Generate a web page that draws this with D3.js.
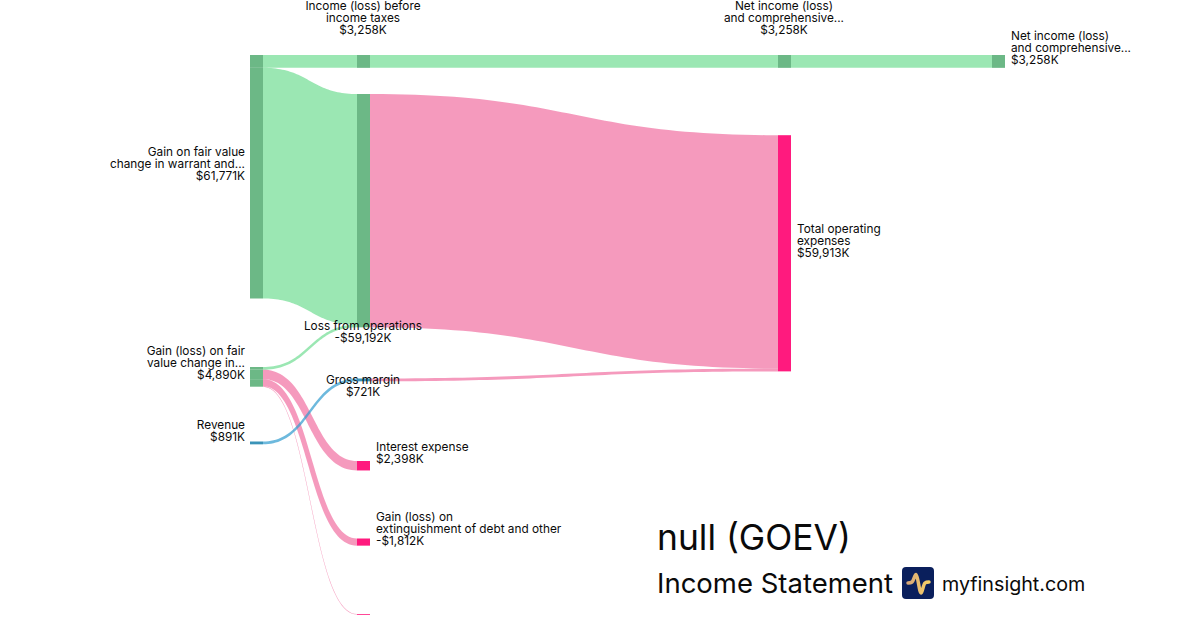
<!DOCTYPE html>
<html>
<head>
<meta charset="utf-8">
<title>GOEV Income Statement</title>
<script src="https://cdn.jsdelivr.net/npm/d3@7"></script>
<style>
  html, body { margin: 0; padding: 0; background: #fff; }
  svg { display: block; font-family: Inter, sans-serif; }
</style>
</head>
<body>
<svg id="chart" width="1200" height="630"></svg>
<script>
// nodes
const nodeIds = ["gainFair", "gainLossFair", "revenue", "incomeBefore", "lossOps", "grossMargin",
  "interest", "extinguish", "other", "netIncome", "totalOpex", "netIncomeFinal"];
const nodeLabels = [
  ["Gain on fair value", "change in warrant and..."],
  ["Gain (loss) on fair", "value change in..."],
  ["Revenue"],
  ["Income (loss) before", "income taxes"],
  ["Loss from operations"],
  ["Gross margin"],
  ["Interest expense"],
  ["Gain (loss) on", "extinguishment of debt and other"],
  [],
  ["Net income (loss)", "and comprehensive..."],
  ["Total operating", "expenses"],
  ["Net income (loss)", "and comprehensive..."]
];
const nodeAmounts = ["$61,771K", "$4,890K", "$891K", "$3,258K", "-$59,192K", "$721K",
  "$2,398K", "-$1,812K", "", "$3,258K", "$59,913K", "$3,258K"];
const nodeValues = [61771, 4890, 891, 3258, 59192, 721, 2398, 1812, 150, 3258, 59913, 3258];
const nodeColumns = [0, 0, 0, 1, 1, 1, 1, 1, 1, 2, 2, 3];
const nodeKinds = ["gain", "gain", "rev", "gain", "gain", "rev", "cost", "cost", "cost", "gain", "cost", "gain"];

// links
const linkSources = ["gainFair", "gainFair", "gainLossFair", "gainLossFair", "gainLossFair", "gainLossFair",
  "revenue", "lossOps", "grossMargin", "incomeBefore", "netIncome"];
const linkTargets = ["incomeBefore", "lossOps", "lossOps", "interest", "extinguish", "other",
  "grossMargin", "totalOpex", "totalOpex", "netIncome", "netIncomeFinal"];
const linkValues = [3258, 58513, 679, 2398, 1812, 150, 721, 59192, 721, 3258, 3258];
const linkKinds = ["gain", "gain", "gain", "cost", "cost", "cost", "rev", "cost", "cost", "gain", "gain"];

const width = 1200, height = 630;
const nodeWidth = 13;
const svg = d3.select("#chart");

const columnX = d3.scaleOrdinal().domain([0, 1, 2, 3]).range([250, 357, 778, 992]);
const size = d3.scaleLinear().domain([0, 61771]).range([0, 243.5]);
const nodeColor = d3.scaleOrdinal().domain(["gain", "rev", "cost"]).range(["#6cb886", "#3a93b8", "#ff1a7e"]);
const linkColor = d3.scaleOrdinal().domain(["gain", "rev", "cost"]).range(["#38d068", "#2f9bcf", "#eb357b"]);
const linkOpacity = d3.scaleOrdinal().domain(["gain", "rev", "cost"]).range([0.5, 0.7, 0.5]);

// where each node sits in its column, hand placed like the original layout
const nodeTop = {
  gainFair: 55, gainLossFair: 367, revenue: 441.5,
  incomeBefore: 55, lossOps: 94, grossMargin: 378.5, interest: 461, extinguish: 538.5, other: 614,
  netIncome: 55, totalOpex: 135.2, netIncomeFinal: 55
};

const nodes = nodeIds.map((id, i) => ({
  id,
  lines: nodeLabels[i],
  amount: nodeAmounts[i],
  kind: nodeKinds[i],
  column: nodeColumns[i],
  x0: columnX(nodeColumns[i]),
  x1: columnX(nodeColumns[i]) + nodeWidth,
  y0: nodeTop[id],
  y1: nodeTop[id] + Math.max(size(nodeValues[i]), 0.8),
  outY: nodeTop[id],
  inY: nodeTop[id],
  parts: []
}));
const nodeById = new Map(nodes.map(d => [d.id, d]));

const links = linkValues.map((v, i) => {
  const s = nodeById.get(linkSources[i]), t = nodeById.get(linkTargets[i]);
  const w = size(v);
  const l = { x0: s.x1, x1: t.x0, y0: s.outY + w / 2, y1: t.inY + w / 2, width: w, kind: linkKinds[i] };
  s.parts.push([s.outY, s.outY + w]);
  s.outY += w;
  t.inY += w;
  return l;
});

// nodes are painted one slice per outgoing link, the source shows faint seams there
nodes.forEach(d => {
  if (d.column !== 0 || !d.parts.length) d.parts = [[d.y0, d.y1]];
});

// ribbon between two nodes: thin ones keep more of their width on the steep part
const ribbon = d3.area().x(d => d.x).y0(d => d.top).y1(d => d.bottom);
const tSteps = d3.range(0, 1.0001, 0.02);
function linkRibbon(l) {
  const dx = l.x1 - l.x0, dy = l.y1 - l.y0;
  const blend = l.width < 50 ? 0.6 : 0;
  return ribbon(tSteps.map(t => {
    const u = 1 - t;
    const xT = 1.5 * t * u + t * t * t;
    const yT = 3 * u * t * t + t * t * t;
    const dxT = 1.5 * (1 - 2 * t) + 3 * t * t;
    const dyT = 6 * t * u;
    const slope = dxT > 0 ? (dy * dyT) / (dx * dxT) : 0;
    const half = l.width / 2 * (1 + blend * (Math.sqrt(1 + slope * slope) - 1));
    const y = l.y0 + dy * yT;
    return { x: l.x0 + dx * xT, top: y - half, bottom: y + half };
  }));
}

svg.append("g")
  .selectAll("path")
  .data(links)
  .join("path")
  .attr("d", linkRibbon)
  .attr("fill", d => linkColor(d.kind))
  .attr("opacity", d => linkOpacity(d.kind));

svg.append("g")
  .selectAll("g")
  .data(nodes)
  .join("g")
  .attr("fill", d => nodeColor(d.kind))
  .selectAll("rect")
  .data(d => d.parts.map(p => ({ x: d.x0, top: p[0], bottom: p[1] })))
  .join("rect")
  .attr("x", d => d.x)
  .attr("y", d => d.top)
  .attr("width", nodeWidth)
  .attr("height", d => d.bottom - d.top);

// labels
const lineHeight = 12;
const centered = new Set(["incomeBefore", "lossOps", "grossMargin", "netIncome"]);
const labelCenter = { incomeBefore: 17.5, lossOps: 332, grossMargin: 386, netIncome: 17.5, gainFair: 164,
  gainLossFair: 363, revenue: 431, interest: 453, extinguish: 529, totalOpex: 241, netIncomeFinal: 48 };

const labels = svg.append("g")
  .attr("font-size", 11.8)
  .attr("fill", "#0a0a0a")
  .selectAll("text")
  .data(nodes.filter(d => d.amount))
  .join("text")
  .attr("text-anchor", d => centered.has(d.id) ? "middle" : d.column === 0 ? "end" : "start");

labels.each(function (d) {
  const rows = d.lines.concat([d.amount]);
  const x = centered.has(d.id) ? d.x0 + nodeWidth / 2 - 0.5 : d.column === 0 ? d.x0 - 5 : d.x1 + 6;
  const top = labelCenter[d.id] - (rows.length - 1) * lineHeight / 2;
  d3.select(this).selectAll("tspan")
    .data(rows)
    .join("tspan")
    .attr("x", x)
    .attr("y", (r, i) => top + i * lineHeight)
    .attr("dy", "0.35em")
    .text(r => r);
});

// title block
svg.append("text").attr("x", 657).attr("y", 550).attr("font-size", 35.4).attr("fill", "#0a0a0a").text("null (GOEV)");
svg.append("text").attr("x", 657).attr("y", 593).attr("font-size", 27.5).attr("fill", "#0a0a0a").text("Income Statement");

const logo = svg.append("g").attr("transform", "translate(902,567)");
logo.append("rect").attr("width", 32).attr("height", 32).attr("rx", 4).attr("fill", "#0a1f5c");
const pulse = d3.line().curve(d3.curveCatmullRom.alpha(0.5));
const gold = logo.append("linearGradient").attr("id", "gold").attr("x1", 0).attr("x2", 1).attr("y1", 0).attr("y2", 0);
gold.append("stop").attr("offset", "0%").attr("stop-color", "#d8a878");
gold.append("stop").attr("offset", "100%").attr("stop-color", "#f7d066");
logo.append("path")
  .attr("d", pulse([[6, 16], [10, 15], [14, 7.5], [19, 26], [23, 16], [27, 15]]))
  .attr("fill", "none")
  .attr("stroke", "url(#gold)")
  .attr("stroke-width", 3.5)
  .attr("stroke-linecap", "round");

svg.append("text").attr("x", 942).attr("y", 590.5).attr("font-size", 19.7).attr("fill", "#0a0a0a").text("myfinsight.com");
</script>
</body>
</html>
